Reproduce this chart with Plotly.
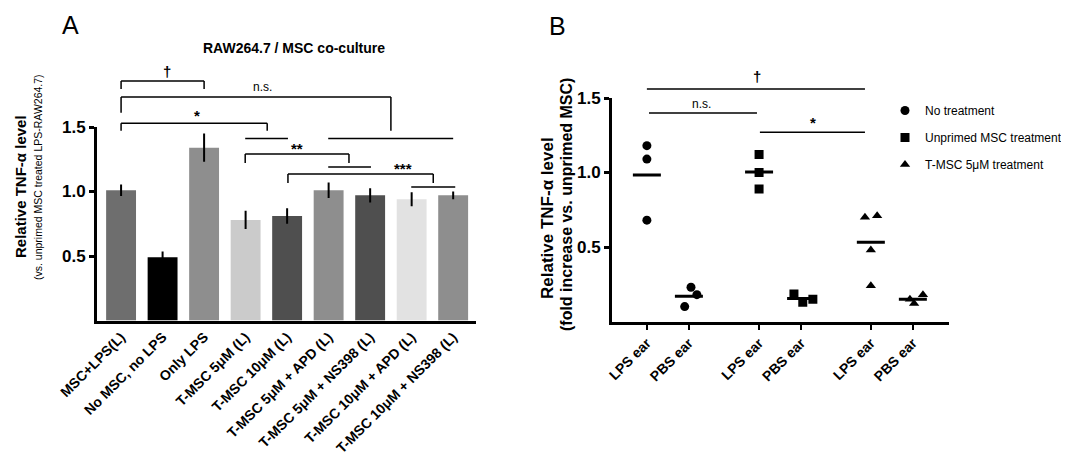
import numpy as np
import plotly.graph_objects as go

# ---- panel A data (bar chart) ----
a_labels = ["MSC+LPS(L)", "No MSC, no LPS", "Only LPS", "T-MSC 5μM (L)", "T-MSC 10μM (L)",
            "T-MSC 5μM + APD (L)", "T-MSC 5μM + NS398 (L)", "T-MSC 10μM + APD (L)",
            "T-MSC 10μM + NS398 (L)"]
a_values = [1.01, 0.49, 1.34, 0.78, 0.81, 1.01, 0.97, 0.94, 0.97]
a_errors = [0.045, 0.045, 0.11, 0.07, 0.06, 0.06, 0.055, 0.055, 0.03]
a_colors = ["#6e6e6e", "#000000", "#8e8e8e", "#cbcbcb", "#4f4f4f",
            "#8e8e8e", "#4f4f4f", "#e2e2e2", "#8e8e8e"]

# ---- panel B data (dot plot) ----
b_ticks = ["LPS ear", "PBS ear", "LPS ear", "PBS ear", "LPS ear", "PBS ear"]
b_tick_pos = [0, 1, 2.67, 3.67, 5.33, 6.33]
b_groups = ["No treatment", "Unprimed MSC treatment", "T-MSC 5μM treatment"]
b_symbols = ["circle", "square", "triangle-up"]
# per group: LPS ear / PBS ear values and the x position of each point (small jitter)
b_lps = [[1.18, 1.09, 0.68], [1.12, 1.00, 0.89], [0.70, 0.71, 0.48, 0.24]]
b_pbs = [[0.23, 0.18, 0.10], [0.185, 0.13, 0.15], [0.15, 0.12, 0.18]]
b_lps_x = [[0, 0, 0], [2.67, 2.67, 2.67], [5.19, 5.48, 5.33, 5.33]]
b_pbs_x = [[1.05, 1.19, 0.90], [3.50, 3.71, 3.95], [6.26, 6.36, 6.57]]

FONT = "Liberation Sans, Arial, sans-serif"
OFF = 8  # page body margin
W, H = 1069 - 2 * OFF, 467 - 2 * OFF


def px_x(px):
    return (px - OFF) / W


def px_y(py):
    return 1 - (py - OFF) / H


# plot areas in screen pixels
A_X0, A_X1, A_Y0, A_Y1 = 97, 476, 320.5, 127
B_X0, B_X1, B_Y0, B_Y1 = 612, 949, 321.5, 98
A_DOM_Y = [px_y(A_Y0), px_y(A_Y1)]
B_DOM_Y = [px_y(B_Y0), px_y(B_Y1)]


def ya(v):
    return A_DOM_Y[0] + v / 1.5 * (A_DOM_Y[1] - A_DOM_Y[0])


def yb(v):
    return B_DOM_Y[0] + v / 1.5 * (B_DOM_Y[1] - B_DOM_Y[0])


fig = go.Figure()

fig.add_trace(go.Bar(
    x=list(range(len(a_labels))), y=a_values,
    marker=dict(color=a_colors, line=dict(width=0)),
    error_y=dict(type="data", array=a_errors, color="black", thickness=2, width=0),
    width=0.72, showlegend=False, xaxis="x", yaxis="y", hoverinfo="skip"))

for i, name in enumerate(b_groups):
    xs = b_lps_x[i] + b_pbs_x[i]
    ys = b_lps[i] + b_pbs[i]
    fig.add_trace(go.Scatter(
        x=xs, y=ys, mode="markers", name=name, legendgroup=name,
        marker=dict(symbol=b_symbols[i], size=9, color="black"),
        xaxis="x2", yaxis="y2"))

means = []
for i in range(len(b_groups)):
    means += [np.mean(b_lps[i]), np.mean(b_pbs[i])]
fig.add_trace(go.Scatter(
    x=b_tick_pos, y=means, mode="markers", showlegend=False,
    marker=dict(symbol="line-ew", size=20, line=dict(width=3, color="black")),
    xaxis="x2", yaxis="y2"))

axis_common = dict(showline=True, linewidth=3, linecolor="black", showgrid=False,
                   zeroline=False, automargin=False)

fig.update_layout(
    template="none",
    width=W, height=H, margin=dict(l=0, r=0, t=0, b=0, autoexpand=False),
    paper_bgcolor="white", plot_bgcolor="white",
    font=dict(family=FONT, color="black"),
    xaxis=dict(domain=[px_x(A_X0), px_x(A_X1)], range=[-0.58, 8.55], anchor="y",
               tickvals=list(range(len(a_labels))), ticktext=a_labels, tickangle=-45,
               ticks="", tickfont=dict(size=14, weight="bold"), **axis_common),
    yaxis=dict(domain=A_DOM_Y, range=[0, 1.5], anchor="x",
               tickvals=[0.5, 1.0, 1.5], ticktext=["0.5", "1.0", "1.5"],
               ticks="outside", ticklen=5, tickwidth=3, tickcolor="black",
               tickfont=dict(size=17, weight="bold"), **axis_common),
    xaxis2=dict(domain=[px_x(B_X0), px_x(B_X1)], range=[-0.83, 7.19], anchor="y2",
                tickvals=b_tick_pos, ticktext=b_ticks, tickangle=-45,
                ticks="outside", ticklen=5, tickwidth=2, tickcolor="black",
                tickfont=dict(size=14, weight="bold"), **axis_common),
    yaxis2=dict(domain=B_DOM_Y, range=[0, 1.5], anchor="x2",
                tickvals=[0.5, 1.0, 1.5], ticktext=["0.5", "1.0", "1.5"],
                ticks="outside", ticklen=5, tickwidth=3, tickcolor="black",
                tickfont=dict(size=17, weight="bold"), **axis_common),
    legend=dict(x=px_x(885), y=px_y(96), xanchor="left", yanchor="top",
                font=dict(size=12, family=FONT), traceorder="grouped",
                tracegroupgap=8, bgcolor="rgba(0,0,0,0)"),
)

shapes = []
annos = []


def line(xref, x0, x1, y0, y1):
    shapes.append(dict(type="line", xref=xref, yref="paper", x0=x0, x1=x1, y0=y0, y1=y1,
                       line=dict(color="black", width=1.5)))


def bracket(xref, yf, x0, x1, top, d0, d1):
    line(xref, x0, x1, yf(top), yf(top))
    line(xref, x0, x0, yf(top), yf(d0))
    line(xref, x1, x1, yf(top), yf(d1))


def label(xref, x, y, text, size, bold=True):
    annos.append(dict(xref=xref, yref="paper", x=x, y=y, text=text, showarrow=False,
                      font=dict(size=size, weight="bold" if bold else "normal"),
                      xanchor="center", yanchor="middle"))


def paper_text(px, py, text, size, bold=False, angle=0):
    annos.append(dict(xref="paper", yref="paper", x=px_x(px), y=px_y(py), text=text,
                      showarrow=False, textangle=angle, xanchor="center", yanchor="middle",
                      font=dict(size=size, weight="bold" if bold else "normal")))


# panel A significance marks
bracket("x", ya, 0, 2, 1.857, 1.795, 1.795)
label("x", 1.1, ya(1.93), "†", 15)
bracket("x", ya, 0, 6.5, 1.733, 1.61, 1.47)
label("x", 3.4, ya(1.81), "n.s.", 12, bold=False)
bracket("x", ya, 0, 3.52, 1.53, 1.47, 1.47)
label("x", 1.83, ya(1.59), "*", 15)
line("x", 2.99, 4.02, ya(1.41), ya(1.41))
line("x", 4.99, 8.0, ya(1.41), ya(1.41))
bracket("x", ya, 2.99, 5.49, 1.29, 1.22, 1.22)
label("x", 4.24, ya(1.33), "**", 15)
line("x", 4.99, 6.02, ya(1.19), ya(1.19))
bracket("x", ya, 4.02, 7.52, 1.136, 1.066, 1.066)
label("x", 6.8, ya(1.18), "***", 15)
line("x", 6.99, 8.05, ya(1.035), ya(1.035))

# panel B significance marks
line("x2", 0, 5.19, yb(1.56), yb(1.56))
label("x2", 2.62, yb(1.645), "†", 15)
line("x2", 0.05, 2.62, yb(1.40), yb(1.40))
label("x2", 1.29, yb(1.46), "n.s.", 12, bold=False)
line("x2", 2.69, 5.19, yb(1.27), yb(1.27))
label("x2", 3.95, yb(1.335), "*", 15)

# panel letters, titles, axis titles
paper_text(70, 25, "A", 25)
paper_text(557, 26, "B", 25)
paper_text(294, 48, "RAW264.7 / MSC co-culture", 14, bold=True)
paper_text(20, 187, "Relative TNF-α level", 15, bold=True, angle=-90)
paper_text(38, 177, "(vs. unprimed MSC treated LPS-RAW264.7)", 10.5, angle=-90)
paper_text(548, 218, "Relative TNF-α level", 17, bold=True, angle=-90)
paper_text(567, 205, "(fold increase vs. unprimed MSC)", 16, bold=True, angle=-90)

fig.update_layout(shapes=shapes, annotations=annos)
fig.write_html("out.html")
